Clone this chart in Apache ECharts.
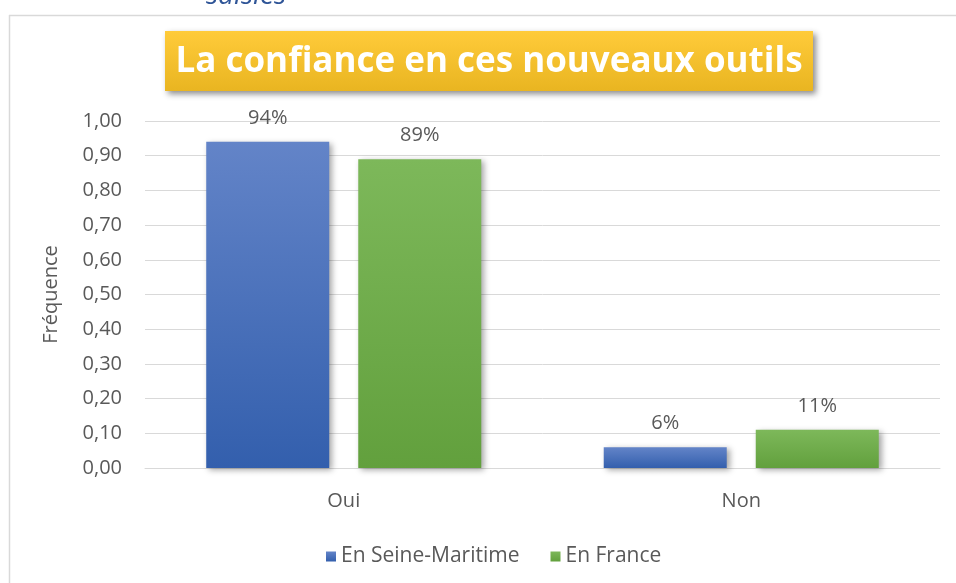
<!DOCTYPE html>
<html>
<head>
<meta charset="utf-8">
<script src="https://cdn.jsdelivr.net/npm/echarts@6/dist/echarts.min.js"></script>
<style>
html,body{margin:0;padding:0;background:#fff;}
#chart{width:956px;height:583px;}
</style>
</head>
<body>
<div id="chart"></div>
<script>
const categories = ['Oui', 'Non'];
const seineMaritime = [0.94, 0.06];
const france = [0.89, 0.11];
const seriesNames = ['En Seine-Maritime', 'En France'];
const titleText = 'La confiance en ces nouveaux outils';
const yAxisName = 'Fréquence';
const topCutText = 'saisies';

const FONT = '"Open Sans", sans-serif';
const GRAY = '#595959';

const chart = echarts.init(document.getElementById('chart'), null, {renderer: 'canvas'});

function grad(top, bottom) {
  return new echarts.graphic.LinearGradient(0, 0, 0, 1, [
    {offset: 0, color: top}, {offset: 1, color: bottom}
  ]);
}

const labelCfg = {
  show: true, position: 'top', distance: 14,
  color: GRAY, fontSize: 20, fontFamily: FONT,
  formatter: p => Math.round(p.value * 100) + '%'
};

chart.setOption({
  backgroundColor: '#fff',
  animation: false,
  grid: {left: 145, right: 16, top: 121, bottom: 115, containLabel: false},
  legend: {
    top: 541, left: 321, icon: 'rect', itemWidth: 10, itemHeight: 10, itemGap: 31, itemTextGap: 11,
    textStyle: {color: GRAY, fontSize: 21, fontFamily: FONT},
    data: seriesNames
  },
  xAxis: {
    type: 'category', data: categories,
    axisLine: {lineStyle: {color: '#d9d9d9'}},
    axisTick: {show: false},
    axisLabel: {color: GRAY, fontSize: 20, fontFamily: FONT, margin: 23}
  },
  yAxis: {
    type: 'value', min: 0, max: 1, interval: 0.1,
    name: yAxisName, nameLocation: 'middle', nameGap: 84, nameRotate: 90,
    nameTextStyle: {color: GRAY, fontSize: 20, fontFamily: FONT},
    axisLine: {show: false}, axisTick: {show: false},
    splitLine: {lineStyle: {color: '#d9d9d9', width: 1}},
    axisLabel: {color: GRAY, fontSize: 20, fontFamily: FONT, margin: 23,
      formatter: v => v.toFixed(2).replace('.', ',')}
  },
  series: [
    {
      name: seriesNames[0], type: 'bar', data: seineMaritime,
      barWidth: 123, barGap: '23.6%',
      itemStyle: {color: grad('#6384c8', '#335fad'), shadowBlur: 6, shadowOffsetX: 3, shadowOffsetY: 2, shadowColor: 'rgba(0,0,0,0.35)'},
      label: labelCfg
    },
    {
      name: seriesNames[1], type: 'bar', data: france,
      barWidth: 123,
      itemStyle: {color: grad('#7db85a', '#62a03d'), shadowBlur: 6, shadowOffsetX: 3, shadowOffsetY: 2, shadowColor: 'rgba(0,0,0,0.35)'},
      label: labelCfg
    }
  ],
  graphic: [
    {type: 'line', shape: {x1: 9, y1: 15.5, x2: 956, y2: 15.5}, style: {stroke: '#d9d9d9', lineWidth: 1.5}, silent: true},
    {type: 'line', shape: {x1: 9.5, y1: 15, x2: 9.5, y2: 583}, style: {stroke: '#d9d9d9', lineWidth: 1.5}, silent: true},
    {type: 'text', x: 206, y: -18, style: {text: topCutText, fill: '#2f5597', font: 'italic 28px ' + FONT}, silent: true},
    {type: 'rect', shape: {x: 165, y: 31, width: 648, height: 60},
      style: {fill: grad('#ffcb3a', '#e9b521'), shadowBlur: 6, shadowOffsetX: 3, shadowOffsetY: 3, shadowColor: 'rgba(0,0,0,0.45)'}, silent: true},
    {type: 'text', x: 489, y: 62,
      style: {text: titleText, fill: '#fff', font: 'bold 35px ' + FONT, align: 'center', verticalAlign: 'middle'}, silent: true}
  ]
});
</script>
</body>
</html>
